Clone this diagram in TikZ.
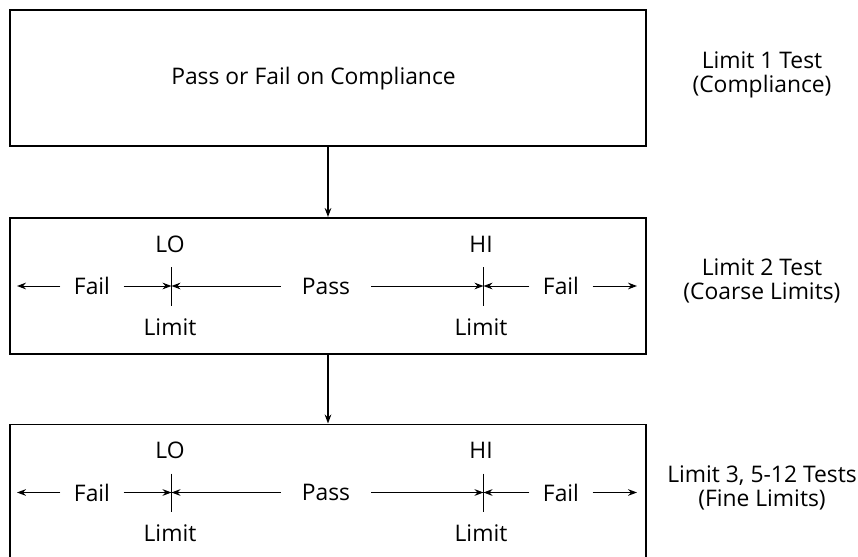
\documentclass[tikz,border=0pt]{standalone}
\usepackage{fontspec}
\setmainfont{Open Sans}
\usetikzlibrary{arrows.meta}
\begin{document}
\begin{tikzpicture}[x=0.03cm, y=-0.03cm,
  every node/.style={font=\fontsize{19.5}{20.5}\selectfont},
  box/.style={draw, line width=1.7pt, minimum width=19.05cm, minimum height=4.08cm, inner sep=0pt},
  lbl/.style={inner xsep=0.4cm, inner ysep=0pt},
  passlbl/.style={inner xsep=0.62cm, inner ysep=0pt},
  arr/.style={-{Stealth[length=0.27cm, width=0.2cm]}, line width=0.85pt},
  tick/.style={line width=0.85pt}]
  \useasboundingbox (0,0) rectangle (858,557);
  \node[box] (b1) at (328,78) {};
  \node[box] (b2) at (328,286) {};
  \node[box] (b3) at (328,492.5) {};
  \node (pf) at (313.5,79) {Pass or Fail on Compliance};
  \draw[arr, line width=1.1pt] (b1) -- (b2);
  \draw[arr, line width=1.1pt] (b2) -- (b3);

  \node[align=center] (t1) at (762,75) {Limit 1 Test\\(Compliance)};
  \node[align=center] (t2) at (762,280.5) {Limit 2 Test\\(Coarse Limits)};
  \node[align=center] (t3) at (762,487.5) {Limit 3, 5-12 Tests\\(Fine Limits)};

  \node (lo2) at (170,244) {LO};
  \node (hi2) at (481,244) {HI};
  \node (lim2a) at (170,327) {Limit};
  \node (lim2b) at (481,327) {Limit};
  \node[lbl] (fail2a) at (92,286) {Fail};
  \node[passlbl] (pass2) at (326,286) {Pass};
  \node[lbl] (fail2b) at (561,286) {Fail};
  \coordinate (lo2t) at (171.5,267);
  \coordinate (lo2m) at (171.5,286);
  \coordinate (lo2b) at (171.5,305.5);
  \coordinate (hi2t) at (483.5,267);
  \coordinate (hi2m) at (483.5,286);
  \coordinate (hi2b) at (483.5,305.5);
  \coordinate (end2a) at (17,286);
  \coordinate (end2b) at (637,286);
  \draw[tick] (lo2t) -- (lo2b);
  \draw[tick] (hi2t) -- (hi2b);
  \draw[arr] (fail2a.west) -- (end2a);
  \draw[arr] (fail2a.east) -- (lo2m);
  \draw[arr] (pass2.west) -- (lo2m);
  \draw[arr] (pass2.east) -- (hi2m);
  \draw[arr] (fail2b.west) -- (hi2m);
  \draw[arr] (fail2b.east) -- (end2b);

  \node (lo3) at (170,450.5) {LO};
  \node (hi3) at (481,450.5) {HI};
  \node (lim3a) at (170,533.5) {Limit};
  \node (lim3b) at (481,533.5) {Limit};
  \node[lbl] (fail3a) at (92,492.5) {Fail};
  \node[passlbl] (pass3) at (326,492.5) {Pass};
  \node[lbl] (fail3b) at (561,492.5) {Fail};
  \coordinate (lo3t) at (171.5,473.5);
  \coordinate (lo3m) at (171.5,492.5);
  \coordinate (lo3b) at (171.5,512);
  \coordinate (hi3t) at (483.5,473.5);
  \coordinate (hi3m) at (483.5,492.5);
  \coordinate (hi3b) at (483.5,512);
  \coordinate (end3a) at (17,492.5);
  \coordinate (end3b) at (637,492.5);
  \draw[tick] (lo3t) -- (lo3b);
  \draw[tick] (hi3t) -- (hi3b);
  \draw[arr] (fail3a.west) -- (end3a);
  \draw[arr] (fail3a.east) -- (lo3m);
  \draw[arr] (pass3.west) -- (lo3m);
  \draw[arr] (pass3.east) -- (hi3m);
  \draw[arr] (fail3b.west) -- (hi3m);
  \draw[arr] (fail3b.east) -- (end3b);
\end{tikzpicture}
\end{document}
